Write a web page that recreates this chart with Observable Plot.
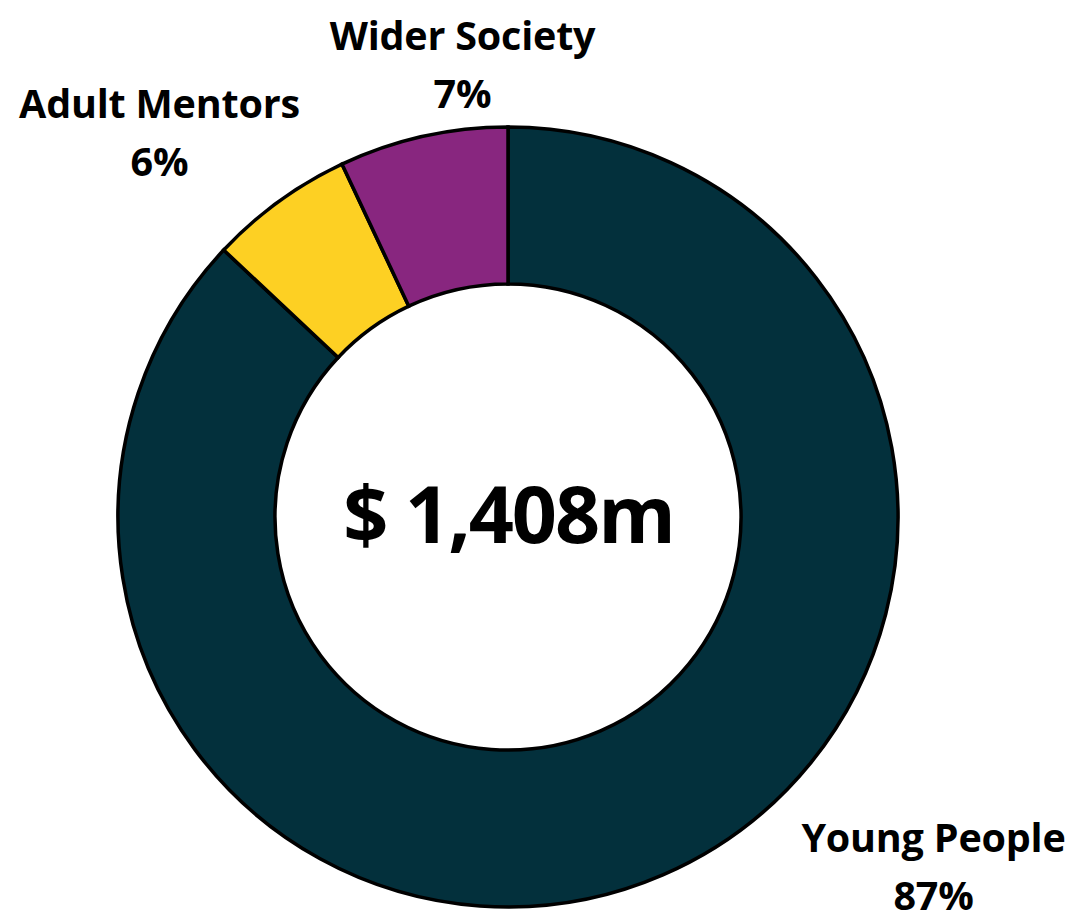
<!DOCTYPE html>
<html><head><meta charset="utf-8">
<script src="https://cdn.jsdelivr.net/npm/d3@7"></script>
<script src="https://cdn.jsdelivr.net/npm/@observablehq/plot@0.6"></script>
<style>body{margin:0;background:#fff}#chart svg{display:block}
#chart text.lbl{letter-spacing:-0.2px}#chart text.total{letter-spacing:-2px}</style>
</head><body><div id="chart"></div>
<script>
// ---- data ----
const categories = ["Young People", "Adult Mentors", "Wider Society"];
const shares = [87, 6, 7];
const colors = ["#03303C", "#FDD023", "#88267F"];
const totalLabel = "$ 1,408m";

// ---- layout (not data) ----
const W = 1077, H = 921;
const cx = 508, cy = 517;           // pixel centre of donut
const outerR = 390, innerR = 233;
// label placement in polar terms (degrees clockwise from 12 o'clock, radius in outer radii)
const labelPlacement = {
  "Young People": {angle: 129.07, r: 1.4036},
  "Adult Mentors": {angle: -41.9, r: 1.34},
  "Wider Society": {angle: -5.75, r: 1.1777}
};

const data = categories.map((c, i) => ({category: c, share: shares[i], color: colors[i]}));
const total = d3.sum(shares);
const labels = data.map(d => {
  const p = labelPlacement[d.category];
  const a = p.angle * Math.PI / 180;
  return {
    text: `${d.category}\n${Math.round(d.share / total * 100)}%`,
    x: Math.sin(a) * p.r * outerR,
    y: -Math.cos(a) * p.r * outerR
  };
});

function donut(index, scales) {
  const x0 = scales.x(0), y0 = scales.y(0);
  const ro = scales.x(outerR) - x0, ri = scales.x(innerR) - x0;
  const pie = d3.pie().sort(null).value(d => d.share)(data);
  const arc = d3.arc().innerRadius(ri).outerRadius(ro);
  const g = d3.create("svg:g").attr("transform", `translate(${x0},${y0})`);
  g.selectAll("path").data(pie).join("path")
    .attr("d", arc)
    .attr("fill", d => d.data.color)
    .attr("stroke", "#000")
    .attr("stroke-width", 3.5)
    .attr("stroke-linejoin", "miter");
  return g.node();
}

const chart = Plot.plot({
  width: W, height: H,
  margin: 0,
  x: {domain: [-cx, W - cx], range: [0, W], axis: null},
  y: {domain: [-cy, H - cy], range: [0, H], axis: null},
  style: {fontFamily: "'Open Sans', sans-serif", background: "#fff"},
  marks: [
    donut,
    Plot.text(labels, {x: "x", y: "y", text: "text", fontSize: 39.5, fontWeight: 700, fill: "#000", lineHeight: 1.48, className: "lbl"}),
    Plot.text([totalLabel], {x: () => 0, y: () => 0, text: d => d, fontSize: 79, fontWeight: 700, fill: "#000", className: "total"})
  ]
});
d3.select(chart).selectAll("g.lbl text").classed("lbl", true);
d3.select(chart).selectAll("g.total text").classed("total", true);
document.getElementById("chart").appendChild(chart);
</script>
</body></html>
